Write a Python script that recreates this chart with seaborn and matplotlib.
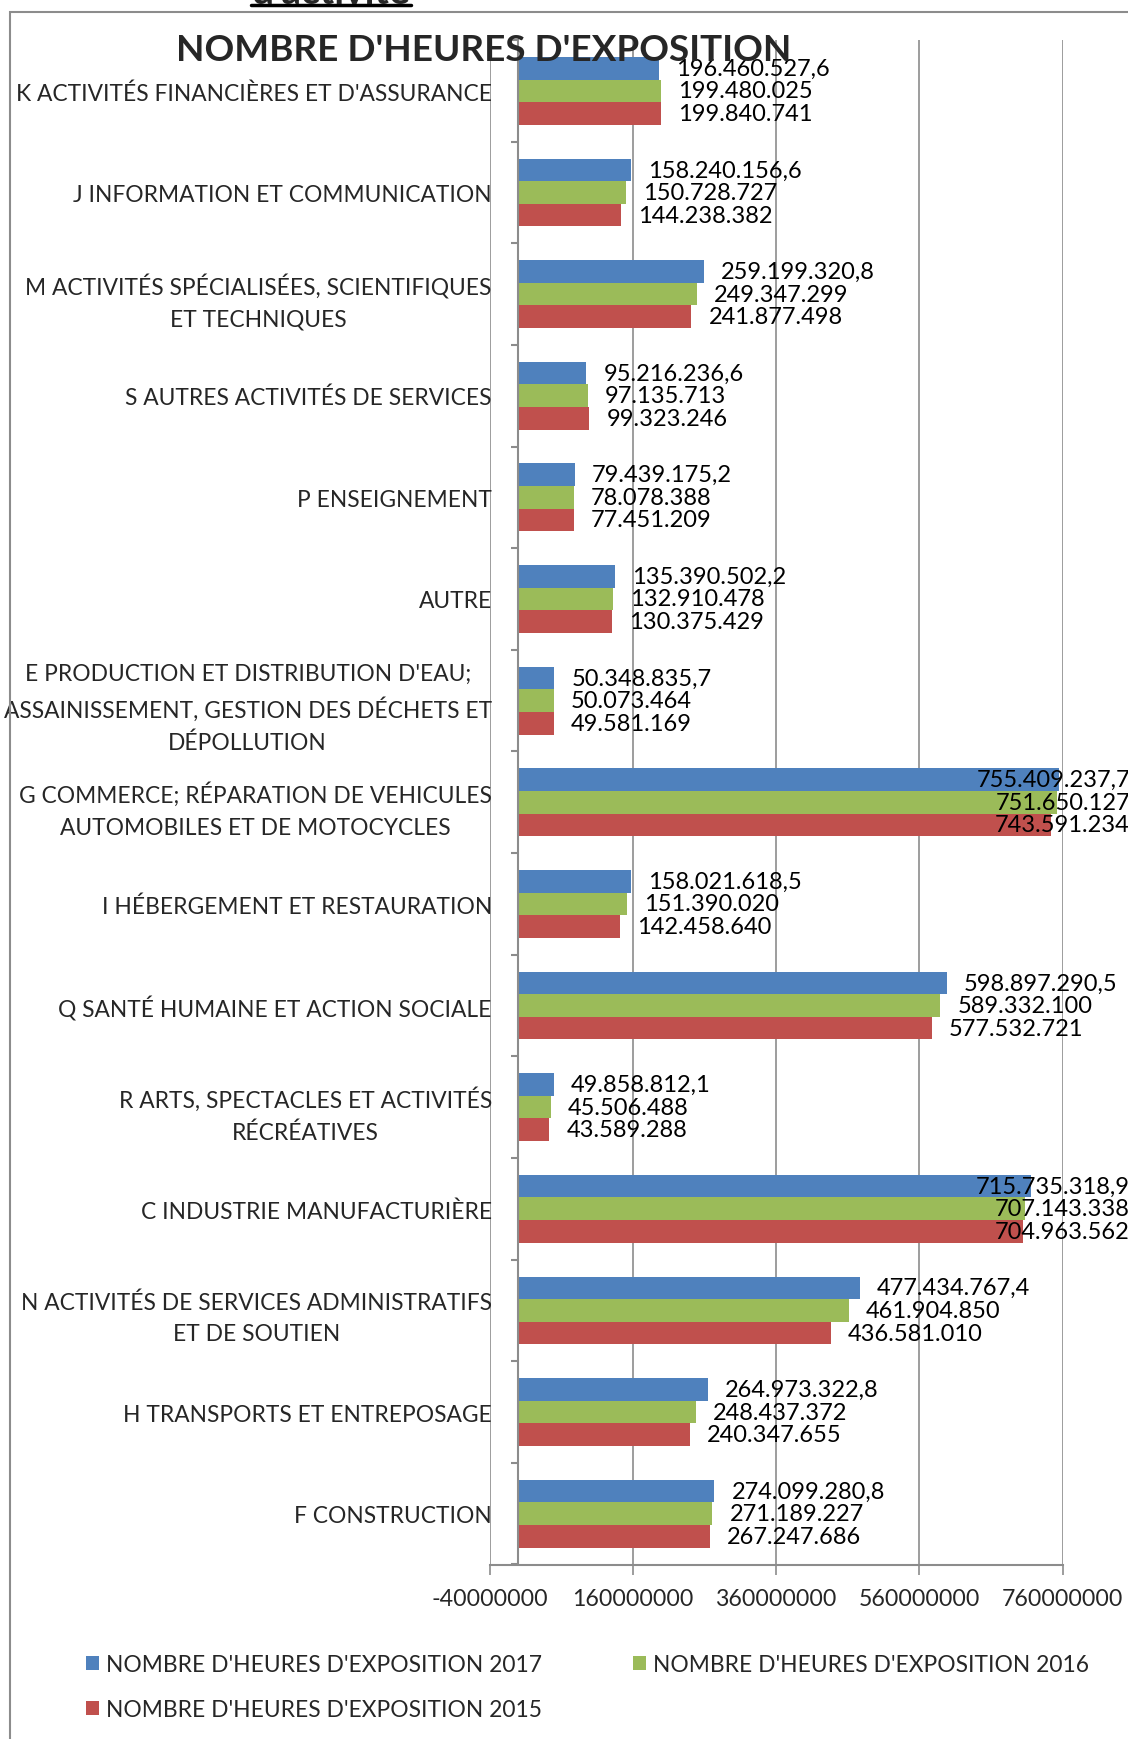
import numpy as np
import pandas as pd
import seaborn as sns
import matplotlib.pyplot as plt
from matplotlib.lines import Line2D
from matplotlib.patches import Rectangle, Patch
from matplotlib.ticker import FixedLocator, FuncFormatter

categories = [
    "K ACTIVITÉS FINANCIÈRES ET D'ASSURANCE",
    "J INFORMATION ET COMMUNICATION",
    "M ACTIVITÉS SPÉCIALISÉES, SCIENTIFIQUES\nET TECHNIQUES",
    "S AUTRES ACTIVITÉS DE SERVICES",
    "P ENSEIGNEMENT",
    "AUTRE",
    "E PRODUCTION ET DISTRIBUTION D'EAU;\nASSAINISSEMENT, GESTION DES DÉCHETS ET\nDÉPOLLUTION",
    "G COMMERCE; RÉPARATION DE VEHICULES\nAUTOMOBILES ET DE MOTOCYCLES",
    "I HÉBERGEMENT ET RESTAURATION",
    "Q SANTÉ HUMAINE ET ACTION SOCIALE",
    "R ARTS, SPECTACLES ET ACTIVITÉS\nRÉCRÉATIVES",
    "C INDUSTRIE MANUFACTURIÈRE",
    "N ACTIVITÉS DE SERVICES ADMINISTRATIFS\nET DE SOUTIEN",
    "H TRANSPORTS ET ENTREPOSAGE",
    "F CONSTRUCTION",
]

heures_2017 = [196460527.6, 158240156.6, 259199320.8, 95216236.6, 79439175.2,
               135390502.2, 50348835.7, 755409237.7, 158021618.5, 598897290.5,
               49858812.1, 715735318.9, 477434767.4, 264973322.8, 274099280.8]
heures_2016 = [199480025, 150728727, 249347299, 97135713, 78078388,
               132910478, 50073464, 751650127, 151390020, 589332100,
               45506488, 707143338, 461904850, 248437372, 271189227]
heures_2015 = [199840741, 144238382, 241877498, 99323246, 77451209,
               130375429, 49581169, 743591234, 142458640, 577532721,
               43589288, 704963562, 436581010, 240347655, 267247686]

series = ["NOMBRE D'HEURES D'EXPOSITION 2017",
          "NOMBRE D'HEURES D'EXPOSITION 2016",
          "NOMBRE D'HEURES D'EXPOSITION 2015"]
decimals = [1, 0, 0]
colors = ["#4F81BD", "#9BBB59", "#C0504D"]
x_ticks = [-40000000, 160000000, 360000000, 560000000, 760000000]


def fmt_fr(v, dec):
    s = f"{v:,.{dec}f}"
    return s.replace(",", " ").replace(".", ",").replace(" ", ".")


df = pd.DataFrame({
    "secteur": categories * 3,
    "serie": [s for s in series for _ in categories],
    "heures": heures_2017 + heures_2016 + heures_2015,
})

sns.set_style("white")
plt.rcParams["font.family"] = ["Lato", "DejaVu Sans"]
FS = 16.4
GRAY = "#8C8C8C"

fig = plt.figure(figsize=(11.28, 17.40), dpi=100)
ax = fig.add_axes([489.5 / 1128, 1 - 1565.5 / 1740, 573 / 1128, 1524.5 / 1740])

sns.barplot(data=df, y="secteur", x="heures", hue="serie", hue_order=series,
            order=categories, palette=colors, orient="h", width=0.667,
            saturation=1, linewidth=0, errorbar=None, legend=False, ax=ax)

ax.set_xlim(-40000000, 760000000)
ax.set_xticks(x_ticks)
ax.xaxis.set_major_formatter(FuncFormatter(lambda v, p: f"{v:.0f}"))
ax.grid(axis="x", color=GRAY, linewidth=1.2)
ax.grid(axis="y", visible=False)
ax.set_axisbelow(True)
ax.set_xlabel("")
ax.set_ylabel("")

for side in ["top", "right"]:
    ax.spines[side].set_visible(False)
ax.spines["left"].set_position(("data", 0))
ax.spines["left"].set_color(GRAY)
ax.spines["left"].set_linewidth(1.5)
ax.spines["bottom"].set_color(GRAY)
ax.spines["bottom"].set_linewidth(1.5)

ax.tick_params(axis="x", bottom=True, length=7, width=1.2, color=GRAY,
               pad=10, labelsize=16.7)
ax.tick_params(axis="y", which="major", left=True, length=0, pad=19,
               labelsize=FS)
ax.yaxis.set_minor_locator(FixedLocator(np.arange(-0.5, len(categories), 1)))
ax.tick_params(axis="y", which="minor", left=True, length=5, width=1.5,
               color=GRAY, direction="out")
for lbl in ax.get_yticklabels():
    lbl.set_multialignment("center")
    lbl.set_linespacing(1.62)

# data labels
labels = []
for cont, dec in zip(ax.containers, decimals):
    for bar in cont:
        w = bar.get_width()
        y = bar.get_y() + bar.get_height() / 2
        t = ax.annotate(fmt_fr(w, dec), xy=(w, y), xytext=(17, 0),
                        textcoords="offset pixels", ha="left", va="center",
                        fontsize=17, color="black", annotation_clip=False)
        labels.append(t)

fig.canvas.draw()
renderer = fig.canvas.get_renderer()
right_px = 1130
for t in labels:
    bb = t.get_window_extent(renderer)
    if bb.x1 > right_px:
        t.xyann = (17 - (bb.x1 - right_px), 0)

# title
fig.text(484 / 1128, 1 - 61 / 1740, "NOMBRE D'HEURES D'EXPOSITION",
         ha="center", va="baseline", fontsize=26.6, fontweight="bold")

# cut off heading above the chart box
fig.text(331 / 1128, 1 - 4 / 1740, "d'activité", ha="center", va="baseline",
         fontsize=28, fontweight="bold")
fig.add_artist(Line2D([251 / 1128, 411 / 1128], [1 - 6 / 1740, 1 - 6 / 1740],
                      transform=fig.transFigure, color="black", linewidth=2.5))

# chart area border
fig.add_artist(Rectangle((10 / 1128, -0.1), 1.2, 1.1 - 13 / 1740,
                         transform=fig.transFigure, fill=False,
                         edgecolor=GRAY, linewidth=1.5))

handles = [Patch(facecolor=c, edgecolor="none", label=s)
           for c, s in zip(colors, series)]
fig.legend(handles=[handles[0], handles[2], handles[1]], ncol=2,
           loc="upper left", bbox_to_anchor=(86 / 1128, 1 - 1655 / 1740),
           frameon=False, fontsize=FS, handlelength=0.58, handleheight=0.58,
           handletextpad=0.3, columnspacing=4.0, labelspacing=1.05,
           borderpad=0, borderaxespad=0)

fig.savefig("out.png", dpi=100)
